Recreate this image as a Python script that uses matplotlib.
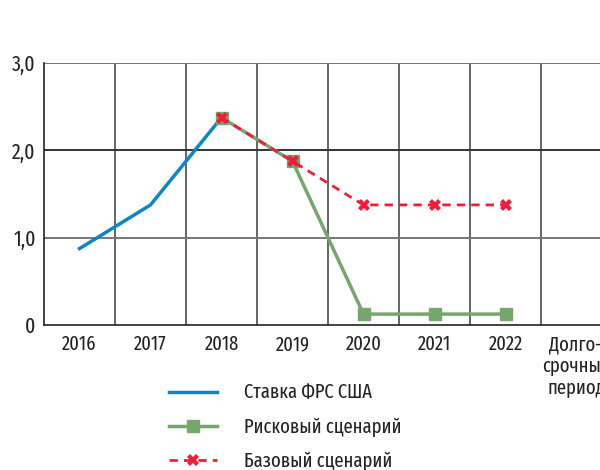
import matplotlib
matplotlib.use("Agg")
import matplotlib.pyplot as plt

categories = ["2016", "2017", "2018", "2019", "2020", "2021", "2022", "Долго–\nсрочный\nпериод"]
fed_rate = [0.875, 1.375, 2.375]
risk_scenario = [2.375, 1.875, 0.125, 0.125, 0.125]
base_scenario = [2.375, 1.875, 1.375, 1.375, 1.375]
y_ticks = [0, 1.0, 2.0, 3.0]
y_tick_labels = ["0", "1,0", "2,0", "3,0"]
unit_label = "(% годовых)"

plt.rcParams["font.family"] = ["Fira Sans Extra Condensed", "DejaVu Sans"]
plt.rcParams["font.weight"] = "normal"
plt.rcParams["font.size"] = 14

fig = plt.figure(figsize=(6, 4.7), dpi=100)
# axes: left 44px, right 612px (beyond figure), top 63px, bottom 325px
W, H = 600, 470
ax = fig.add_axes([44 / W, 1 - 325 / H, (612 - 44) / W, (325 - 63) / H])

x = list(range(len(categories)))
ax.set_xlim(-0.5, len(categories) - 0.5)
ax.set_ylim(0, 3.0)

for i in range(len(categories)):
    ax.axvline(i + 0.5, color="#4a4a4a", lw=1.2, zorder=1)
for yv, c in zip(y_ticks[1:], ["#777777", "#333333", "#777777"]):
    ax.axhline(yv, color=c, lw=1.4, zorder=1)

ln_fed, = ax.plot(x[:3], fed_rate, color="#0f86c0", lw=2.5, zorder=3)
ln_risk, = ax.plot(x[2:7], risk_scenario, color="#76a56e", lw=2.5, marker="s",
                   markersize=8, zorder=3)
ln_base, = ax.plot(x[2:7], base_scenario, color="#ee1d3a", lw=2, ls=(0, (3, 2.2)),
                   marker="X", markersize=8, markeredgewidth=0, zorder=4)

for s in ["top", "right"]:
    ax.spines[s].set_visible(False)
ax.spines["left"].set_color("#222222")
ax.spines["bottom"].set_color("#222222")
ax.spines["left"].set_linewidth(1.2)
ax.spines["bottom"].set_linewidth(1.2)

ax.set_yticks(y_ticks)
ax.set_yticklabels(y_tick_labels, fontsize=15.5)
ax.set_xticks(x)
ax.set_xticklabels(categories, fontsize=14.5, linespacing=1.15, va="top")
ax.tick_params(axis="both", length=0, colors="#222222")
ax.tick_params(axis="y", pad=6)
ax.tick_params(axis="x", pad=7)

fig.text(3 / W, 1 + 12 / H, unit_label, fontsize=14, ha="left", va="bottom",
         color="#222222")

fig.legend([ln_fed, ln_risk, ln_base],
           ["Ставка ФРС США", "Рисковый сценарий", "Базовый сценарий"],
           loc="upper left", bbox_to_anchor=(151 / W, 1 - 365 / H),
           frameon=False, fontsize=14.5, handlelength=2.4, handletextpad=1.3,
           labelspacing=0.72, labelcolor="#222222")

fig.savefig("out.png", dpi=100)
